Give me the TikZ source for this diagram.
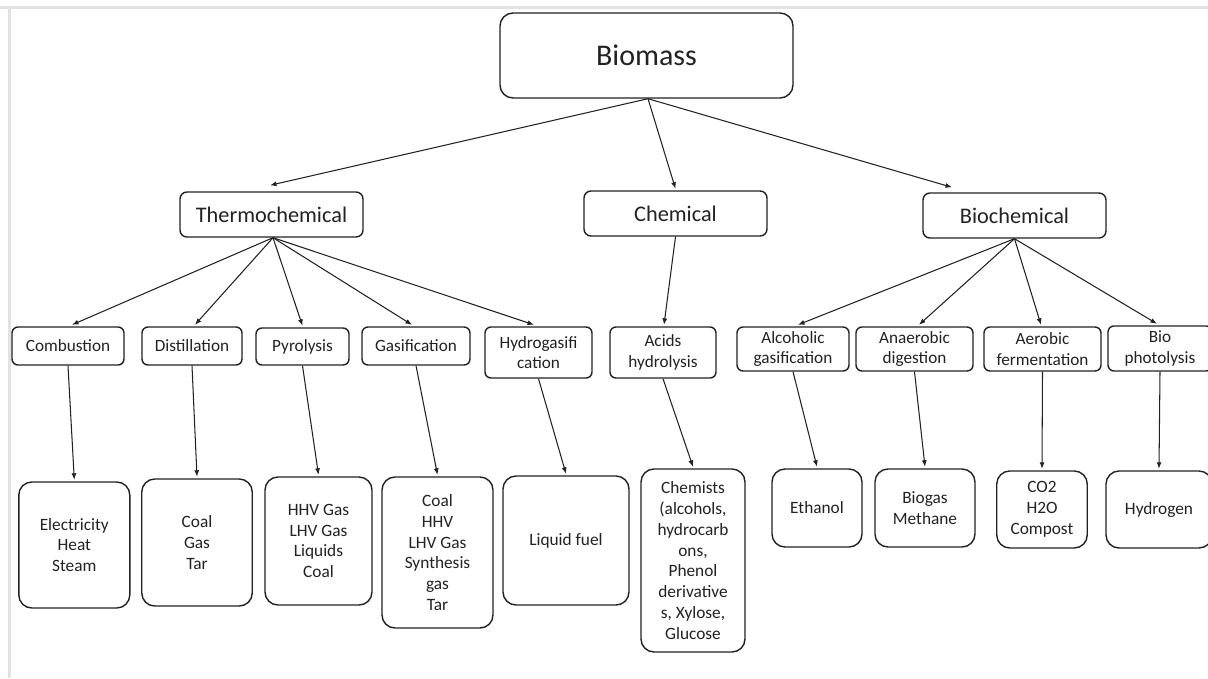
\documentclass[tikz,border=0pt]{standalone}
\usepackage{fontspec}
\setmainfont{Carlito}
\usetikzlibrary{calc,arrows.meta}
\definecolor{frame}{HTML}{E2E2E2}
\definecolor{ink}{HTML}{222222}
\tikzset{
  box/.style={draw=ink, line width=1.4pt, rectangle, inner sep=0pt, align=center, text=ink},
  topbox/.style={box, rounded corners=13pt, font=\fontsize{30}{35}\selectfont},
  midbox/.style={box, rounded corners=7pt, minimum width=183pt, minimum height=45pt, font=\fontsize{22.3}{26}\selectfont},
  procbox/.style={box, rounded corners=6pt, font=\fontsize{17.2}{20.6}\selectfont},
  resbox/.style={box, rounded corners=13pt, font=\fontsize{17.3}{20.8}\selectfont},
  arr/.style={draw=ink, line width=1.05pt, -{Latex[length=6.5pt,width=5pt]}}
}
\begin{document}
\begin{tikzpicture}[x=1pt,y=-1pt]
\clip (0,0) rectangle (1208,678);
\fill[white] (0,0) rectangle (1208,678);
\draw[frame, line width=3pt] (0,7.5) -- (1208,7.5);
\draw[frame, line width=3.5pt] (9.5,7.5) -- (9.5,678);

% level 0
\node[topbox, minimum width=293pt, minimum height=85pt] (bio) at (646.5,55.5) {Biomass};
% level 1
\node[midbox] (thermo) at (271.5,214.5) {Thermochemical};
\node[midbox] (chem) at (675.5,213.5) {Chemical};
\node[midbox] (biochem) at (1014.5,215.5) {Biochemical};
% level 2
\node[procbox, minimum width=112pt, minimum height=38pt] (comb) at (68,346) {Combustion};
\node[procbox, minimum width=100pt, minimum height=38pt] (dist) at (192,346) {Distillation};
\node[procbox, minimum width=93pt, minimum height=37pt] (pyro) at (302.5,346.5) {Pyrolysis};
\node[procbox, minimum width=108pt, minimum height=38pt] (gasi) at (416,346) {Gasification};
\node[procbox, minimum width=107pt, minimum height=51pt] (hydro) at (538.5,352.5) {Hydrogasifi\\cation};
\node[procbox, minimum width=106pt, minimum height=51pt] (acids) at (663,352.5) {Acids\\hydrolysis};
\node[procbox, minimum width=112pt, minimum height=44pt] (alco) at (793,349) {Alcoholic\\gasification};
\node[procbox, minimum width=117pt, minimum height=44pt] (anae) at (914.5,349) {Anaerobic\\digestion};
\node[procbox, minimum width=117pt, minimum height=44pt] (aero) at (1042.5,349) {Aerobic\\fermentation};
\node[procbox, minimum width=104pt, minimum height=45pt] (biop) at (1160,348.5) {Bio\\photolysis};
% level 3
\node[resbox, minimum width=111pt, minimum height=126pt] (elec) at (74.3,545) {Electricity\\Heat\\Steam};
\node[resbox, minimum width=110.5pt, minimum height=127pt] (coala) at (197,542.5) {Coal\\Gas\\Tar};
\node[resbox, minimum width=107pt, minimum height=128pt] (hhv) at (318.5,541) {HHV Gas\\LHV Gas\\Liquids\\Coal};
\node[resbox, minimum width=111pt, minimum height=151pt] (coalb) at (437.5,552.5) {Coal\\HHV\\LHV Gas\\Synthesis\\gas\\Tar};
\node[resbox, minimum width=126pt, minimum height=129pt] (liq) at (566,540.5) {Liquid fuel};
\node[resbox, minimum width=104pt, minimum height=183pt] (chms) at (693,560.5) {Chemists\\(alcohols,\\hydrocarb\\ons,\\Phenol\\derivative\\s, Xylose,\\Glucose};
\node[resbox, minimum width=90pt, minimum height=78pt] (eth) at (817,508) {Ethanol};
\node[resbox, minimum width=100pt, minimum height=78pt] (biogas) at (925,508) {Biogas\\Methane};
\node[resbox, minimum width=90.5pt, minimum height=77pt] (co2) at (1042,509.5) {CO2\\H2O\\Compost};
\node[resbox, minimum width=106pt, minimum height=77pt] (hyd) at (1159,509.5) {Hydrogen};

% connectors level 0 -> 1
\draw[arr] ($(bio.south)+(1.5,0)$) -- ($(thermo.north)+(-1.5,-6)$);
\draw[arr] ($(bio.south)+(1.5,0)$) -- ($(chem.north)+(0,-1.5)$);
\draw[arr] ($(bio.south)+(1.5,0)$) -- ($(biochem.north)+(-62.5,-5)$);
% level 1 -> 2
\draw[arr] ($(thermo.south)+(1.5,0)$) -- ($(comb.north)+(4,-1.5)$);
\draw[arr] ($(thermo.south)+(1.5,0)$) -- ($(dist.north)+(3,-1.5)$);
\draw[arr] ($(thermo.south)+(1.5,0)$) -- ($(pyro.north)+(0,-1.5)$);
\draw[arr] ($(thermo.south)+(1.5,0)$) -- ($(gasi.north)+(-4,-1.5)$);
\draw[arr] ($(thermo.south)+(1.5,0)$) -- ($(hydro.north)+(-4.5,-1.5)$);
\draw[arr] (chem.south) -- ($(acids.north)+(1,-1.5)$);
\draw[arr] (biochem.south) -- ($(alco.north)+(5,-1.5)$);
\draw[arr] (biochem.south) -- ($(anae.north)+(4.5,-1.5)$);
\draw[arr] (biochem.south) -- ($(aero.north)+(-1.5,-1.5)$);
\draw[arr] (biochem.south) -- ($(biop.north)+(-3,-1.5)$);
% level 2 -> 3
\draw[arr] (comb.south) -- ($(elec.north)+(0,-1.5)$);
\draw[arr] (dist.south) -- ($(coala.north)+(0,-1.5)$);
\draw[arr] (pyro.south) -- ($(hhv.north)+(0,-1.5)$);
\draw[arr] (gasi.south) -- ($(coalb.north)+(0,-1.5)$);
\draw[arr] (hydro.south) -- ($(liq.north)+(0,-1.5)$);
\draw[arr] (acids.south) -- ($(chms.north)+(0,-1.5)$);
\draw[arr] (alco.south) -- ($(eth.north)+(0,-1.5)$);
\draw[arr] (anae.south) -- ($(biogas.north)+(0,-1.5)$);
\draw[arr] (aero.south) -- ($(co2.north)+(0,-1.5)$);
\draw[arr] (biop.south) -- ($(hyd.north)+(0,-1.5)$);
\end{tikzpicture}
\end{document}
